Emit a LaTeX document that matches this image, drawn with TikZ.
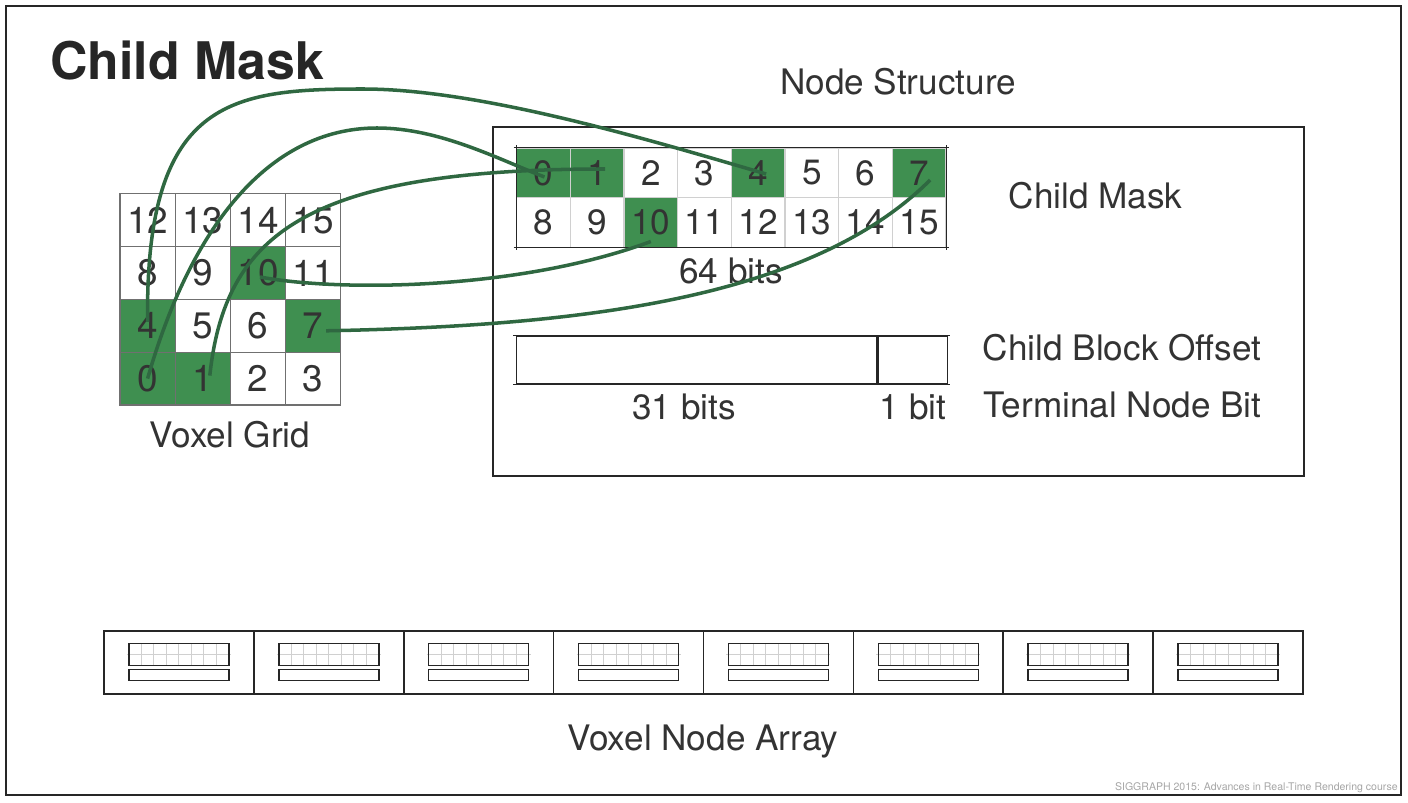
\documentclass[tikz,border=0pt]{standalone}
\usepackage{fontspec}
\setmainfont{TeX Gyre Heros}
\usepackage{tikz}
\usetikzlibrary{positioning}

\definecolor{cellgreen}{HTML}{3F8F50}
\definecolor{linkgreen}{HTML}{2F6841}
\definecolor{inkdark}{HTML}{262626}
\definecolor{inksoft}{HTML}{333333}
\definecolor{gridgray}{HTML}{707070}
\definecolor{softgray}{HTML}{D0D0D0}

\begin{document}
\begin{tikzpicture}[x=0.02cm,y=-0.02cm,
  labeltext/.style={inner sep=0pt,text=inksoft,font=\fontsize{20}{24}\selectfont},
  voxcell/.style={draw=gridgray,line width=0.6pt,minimum width=1.104cm,minimum height=1.056cm,inner sep=0pt,text=inksoft,font=\fontsize{21}{24}\selectfont},
  maskcell/.style={draw=softgray,line width=0.6pt,minimum width=1.0732cm,minimum height=0.99cm,inner sep=0pt,text=inksoft,font=\fontsize{20}{24}\selectfont},
  edgeline/.style={draw=inkdark,line width=0.7pt,shorten <=-1.5pt,shorten >=-1.5pt},
  barcell/.style={draw=inkdark,line width=0.7pt,minimum height=0.96cm,inner sep=0pt},
  arraycell/.style={draw=inkdark,line width=0.9pt,minimum width=2.9975cm,minimum height=1.26cm,inner sep=0pt},
  minigrid/.style={draw=softgray,line width=0.6pt},
  minibox/.style={draw=inkdark,line width=0.9pt},
  link/.style={draw=linkgreen,line width=2pt}]

    \useasboundingbox (0,0) rectangle (1408,803);
    \draw[inkdark,line width=0.6pt] (6,6) rectangle (1401,795);

    % Titles
    \node[labeltext,text=inkdark,anchor=base west,font=\bfseries\fontsize{29.5}{32}\selectfont] (title) at (50,80) {Child Mask};
    \node[labeltext,anchor=base] (structtitle) at (898,95) {Node Structure};

    % The voxel grid
    \foreach \i/\f in {0/cellgreen,1/cellgreen,2/white,3/white,4/cellgreen,5/white,6/white,7/cellgreen,
                       8/white,9/white,10/cellgreen,11/white,12/white,13/white,14/white,15/white}{
        \pgfmathtruncatemacro{\c}{mod(\i,4)}
        \pgfmathtruncatemacro{\r}{\i/4}
        \node[voxcell,fill=\f] (v\i) at (147.6+55.2*\c,378.6-52.8*\r) {\i};
    }
    \node[labeltext,anchor=base] (gridlabel) at (230,447) {Voxel Grid};

    % Node structure
    \draw[inkdark,line width=0.6pt] (493,127) rectangle (1304,476);
    \foreach \i/\f in {0/cellgreen,1/cellgreen,2/white,3/white,4/cellgreen,5/white,6/white,7/cellgreen,
                       8/white,9/white,10/cellgreen,11/white,12/white,13/white,14/white,15/white}{
        \pgfmathtruncatemacro{\c}{mod(\i,8)}
        \pgfmathtruncatemacro{\r}{\i/8}
        \node[maskcell,fill=\f] (m\i) at (543.5+53.66*\c,173+49.5*\r) {\i};
    }
    \draw[edgeline] (m0.north west) -- (m7.north east);
    \draw[edgeline] (m8.south west) -- (m15.south east);
    \draw[edgeline] (m0.north west) -- (m8.south west);
    \draw[edgeline] (m7.north east) -- (m15.south east);
    \node[labeltext,anchor=base] (bits64) at (731,284) {64 bits};

    \node[barcell,minimum width=7.2cm] (offset) at (696.7,360) {};
    \node[barcell,minimum width=1.386cm,right=0pt of offset] (term) {};
    \draw[edgeline] (offset.north west) -- (term.north east);
    \draw[edgeline] (offset.south west) -- (term.south east);
    \node[labeltext,anchor=base] (bits31) at (684,419) {31 bits};
    \node[labeltext,anchor=base] (bit1) at (913,419) {1 bit};

    \node[labeltext,anchor=base] (masklabel) at (1095.5,209) {Child Mask};
    \node[labeltext,anchor=base] (offsetlabel) at (1122,360) {Child Block Offset};
    \node[labeltext,anchor=base] (termlabel) at (1122.5,418) {Terminal Node Bit};

    % Voxel node array
    \foreach \k in {1,...,8}{
        \node[arraycell] (a\k) at (104+149.875*\k-74.94,662.5) {};
        \begin{scope}[shift={(a\k.center)}]
            \foreach \j in {1,...,7}
                \draw[minigrid] (-50+12.5*\j,-19.2) -- (-50+12.5*\j,2.8);
            \draw[minigrid] (-52,-8.2) -- (52,-8.2);
            \draw[minibox] (-50,-19.2) rectangle (50,2.8);
            \draw[minibox] (-50,6.8) rectangle (50,18.2);
        \end{scope}
    }
    \node[labeltext,anchor=base] (arraylabel) at (703,750) {Voxel Node Array};

    \node[labeltext,anchor=base east,text=gray!70,font=\fontsize{6}{7}\selectfont] (footer) at (1398,790)
        {SIGGRAPH 2015: Advances in Real-Time Rendering course};

    % Child mask links
    \coordinate (arcfour) at (363,89);
    \coordinate (arczero) at (377,128);
    \draw[link] ([shift={(0,-4)}]v4.center) .. controls (145,100) and (230,89) .. (arcfour)
        .. controls (480,89) and (650,140) .. ([shift={(8,1)}]m4.center);
    \draw[link] (v0.center) .. controls (190,230) and (267,128) .. (arczero)
        .. controls (440,128) and (500,160) .. ([shift={(1,4)}]m0.center);
    \draw[link] ([shift={(7,-3)}]v1.center) .. controls (225,235) and (305,169) .. ([shift={(8,-4)}]m1.center);
    \draw[link] ([shift={(2,4)}]v10.center) .. controls (340,292) and (520,290) .. ([shift={(0,19)}]m10.center);
    \draw[link] ([shift={(13,5)}]v7.center) .. controls (576,326) and (810,300) .. ([shift={(11,7)}]m7.center);

\end{tikzpicture}
\end{document}
